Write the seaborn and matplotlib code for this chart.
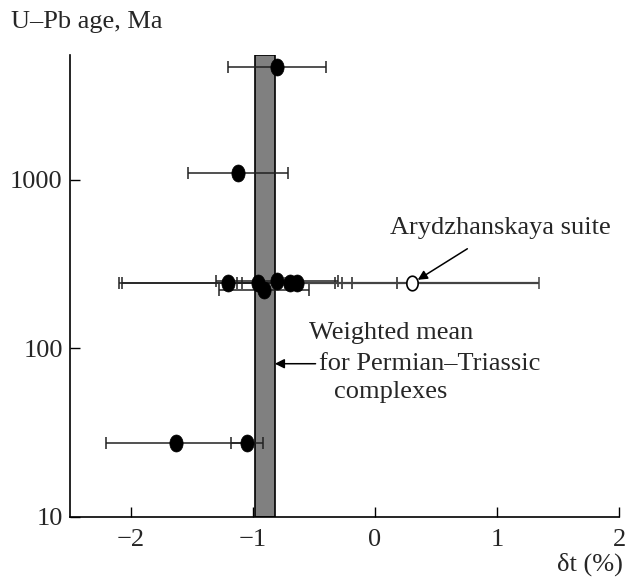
import numpy as np
import pandas as pd
import seaborn as sns
import matplotlib.pyplot as plt
from matplotlib.path import Path

# data
dt_filled = [-0.80, -1.12, -1.20, -0.96, -0.80, -0.70, -0.64, -0.91, -1.63, -1.05]
age_filled = [4700, 1100, 245, 245, 250, 245, 245, 222, 27.5, 27.5]
err_filled = [0.40, 0.41, 0.87, 1.14, 0.50, 0.43, 0.45, 0.37, 0.57, 0.13]

dt_open = [0.30]
age_open = [245]
err_open = [1.04]

band_lo, band_hi = -0.98, -0.82

df = pd.DataFrame({"dt": dt_filled, "age": age_filled, "err": err_filled})
df_open = pd.DataFrame({"dt": dt_open, "age": age_open, "err": err_open})

sns.set_theme(style="ticks")
plt.rcParams['font.family'] = ['Liberation Serif', 'DejaVu Serif']

fig = plt.figure(figsize=(6.28, 5.78), dpi=100)
ax = fig.add_axes([0.111, 0.106, 0.875, 0.799])

# shaded weighted-mean band
ax.axvspan(band_lo, band_hi, facecolor='#808080', edgecolor='black', linewidth=1.2, zorder=1)

# error bars
ax.errorbar(df["dt"], df["age"], xerr=df["err"], fmt='none', ecolor='#222222',
            elinewidth=1.1, capsize=4, capthick=1.1, zorder=2)
ax.errorbar(df_open["dt"], df_open["age"], xerr=df_open["err"], fmt='none', ecolor='#444444',
            elinewidth=1.6, capsize=4, capthick=1.1, zorder=2)

# elliptical marker (taller than wide)
t = np.linspace(0, 2 * np.pi, 40)
ell = Path(np.column_stack([0.78 * np.cos(t), np.sin(t)]))

sns.scatterplot(data=df, x="dt", y="age", marker=ell, s=150, color='black',
                edgecolor='black', linewidth=0.5, ax=ax, zorder=3, legend=False)
sns.scatterplot(data=df_open, x="dt", y="age", marker=ell, s=110, color='white',
                edgecolor='black', linewidth=1.2, ax=ax, zorder=3, legend=False)

ax.set_yscale('log')
ax.set_xlim(-2.5, 2.0)
ax.set_ylim(10, 5520)
ax.set_xticks([-2, -1, 0, 1, 2])
ax.set_xticklabels(['\u22122', '\u22121', '0', '1', '2'])
ax.set_yticks([10, 100, 1000])
ax.set_yticklabels(['10', '100', '1000'])
ax.yaxis.set_minor_locator(plt.NullLocator())
ax.tick_params(axis='both', direction='in', length=7, width=1, labelsize=19, pad=5, color='black')
ax.tick_params(axis='x', pad=9)
for s in ['top', 'right']:
    ax.spines[s].set_visible(False)
for s in ['left', 'bottom']:
    ax.spines[s].set_linewidth(1.2)
    ax.spines[s].set_color('black')
ax.set_xlabel('')
ax.set_ylabel('')

fig.text(0.018, 0.962, 'U\u2013Pb age, Ma', fontsize=19, ha='left', va='center')
fig.text(0.992, 0.024, '\u03b4t (%)', fontsize=19, ha='right', va='center')

# annotations
ax.annotate('Arydzhanskaya suite', xy=(0.35, 255), xytext=(1.03, 519),
            fontsize=19, ha='center', va='center',
            arrowprops=dict(arrowstyle='-|>', color='black', lw=1.1,
                            mutation_scale=14, shrinkA=9, shrinkB=0))
ax.text(0.13, 124, 'Weighted mean', fontsize=19, ha='center', va='center')
ax.text(0.13, 55, 'complexes', fontsize=19, ha='center', va='center')
ax.annotate('for Permian\u2013Triassic', xy=(band_hi, 81), xytext=(-0.46, 81),
            fontsize=19, ha='left', va='center',
            arrowprops=dict(arrowstyle='-|>', color='black', lw=1.1,
                            mutation_scale=14, shrinkA=0, shrinkB=0))

plt.savefig('out.png', dpi=100)
